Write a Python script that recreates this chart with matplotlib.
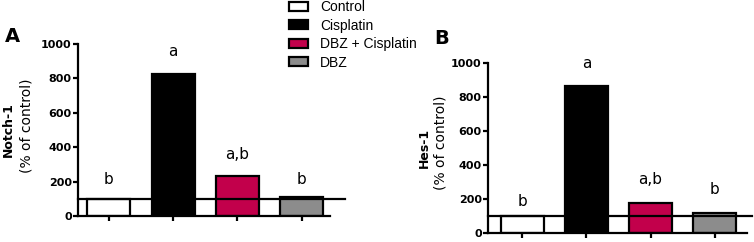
import numpy as np
import matplotlib
matplotlib.use("Agg")
import matplotlib.pyplot as plt
from matplotlib.patches import Patch

groups = ["Control", "Cisplatin", "DBZ + Cisplatin", "DBZ"]
colors = ["#ffffff", "#000000", "#c2004b", "#8c8c8c"]
notch = [100, 825, 235, 110]
hes = [100, 865, 175, 120]
notch_letters = ["b", "a", "a,b", "b"]
hes_letters = ["b", "a", "a,b", "b"]
notch_letter_y = [210, 955, 355, 212]
hes_letter_y = [188, 998, 312, 253]
yticks = [0, 200, 400, 600, 800, 1000]

W, H = 754, 242
fig = plt.figure(figsize=(W / 100, H / 100), dpi=100)
plt.rcParams['font.family'] = ['Liberation Sans', 'DejaVu Sans']


def box(l, r, top, bot):
    return [l / W, 1 - bot / H, (r - l) / W, (bot - top) / H]


def panel(rect, vals, letters, ly, xlim, hline_end):
    ax = fig.add_axes(rect)
    x = np.arange(len(vals))
    ax.bar(x, vals, width=0.67, color=colors, edgecolor="black", linewidth=1.6, zorder=2)
    ax.plot([xlim[0], hline_end], [100, 100], color="black", lw=1.6, clip_on=False, zorder=3)
    for xi, t, yy in zip(x, letters, ly):
        ax.text(xi, yy, t, ha="center", va="center", fontsize=11, family="DejaVu Sans")
    ax.set_xlim(*xlim)
    ax.set_ylim(0, 1000)
    ax.set_yticks(yticks)
    ax.set_yticklabels([str(v) for v in yticks], fontsize=8, fontweight="bold",
                       family="DejaVu Sans")
    ax.set_xticks(x)
    ax.set_xticklabels([])
    for s in ["top", "right"]:
        ax.spines[s].set_visible(False)
    for s in ["left", "bottom"]:
        ax.spines[s].set_linewidth(1.6)
    ax.tick_params(axis="both", width=1.6, length=3.5, pad=1)
    return ax


panel(box(78, 330, 44, 216), notch, notch_letters, notch_letter_y, (-0.48, 3.44), 3.67)
panel(box(488, 747, 63, 233), hes, hes_letters, hes_letter_y, (-0.53, 3.5), 3.58)

fig.text(12 / W, 1 - 37 / H, "A", fontsize=14, fontweight="bold", ha="center", va="center",
         family="DejaVu Sans")
fig.text(442 / W, 1 - 38 / H, "B", fontsize=14, fontweight="bold", ha="center", va="center",
         family="DejaVu Sans")

fig.text(8 / W, 1 - 130 / H, "Notch-1", rotation=90, fontsize=9, fontweight="bold",
         ha="center", va="center", family="DejaVu Sans")
fig.text(27 / W, 1 - 126 / H, "(% of control)", rotation=90, fontsize=10,
         ha="center", va="center", family="DejaVu Sans")
fig.text(424 / W, 1 - 148 / H, "Hes-1", rotation=90, fontsize=9, fontweight="bold",
         ha="center", va="center", family="DejaVu Sans")
fig.text(441 / W, 1 - 143 / H, "(% of control)", rotation=90, fontsize=10,
         ha="center", va="center", family="DejaVu Sans")

handles = [Patch(facecolor=c, edgecolor="black", linewidth=1.6) for c in colors]
fig.legend(handles, groups, loc="upper left", bbox_to_anchor=(289 / W, 1.0),
           frameon=False, fontsize=10, handlelength=1.4, handleheight=0.6,
           labelspacing=0.33, handletextpad=0.85, borderpad=0.0, borderaxespad=0.0)

fig.savefig("out.png", dpi=100)
